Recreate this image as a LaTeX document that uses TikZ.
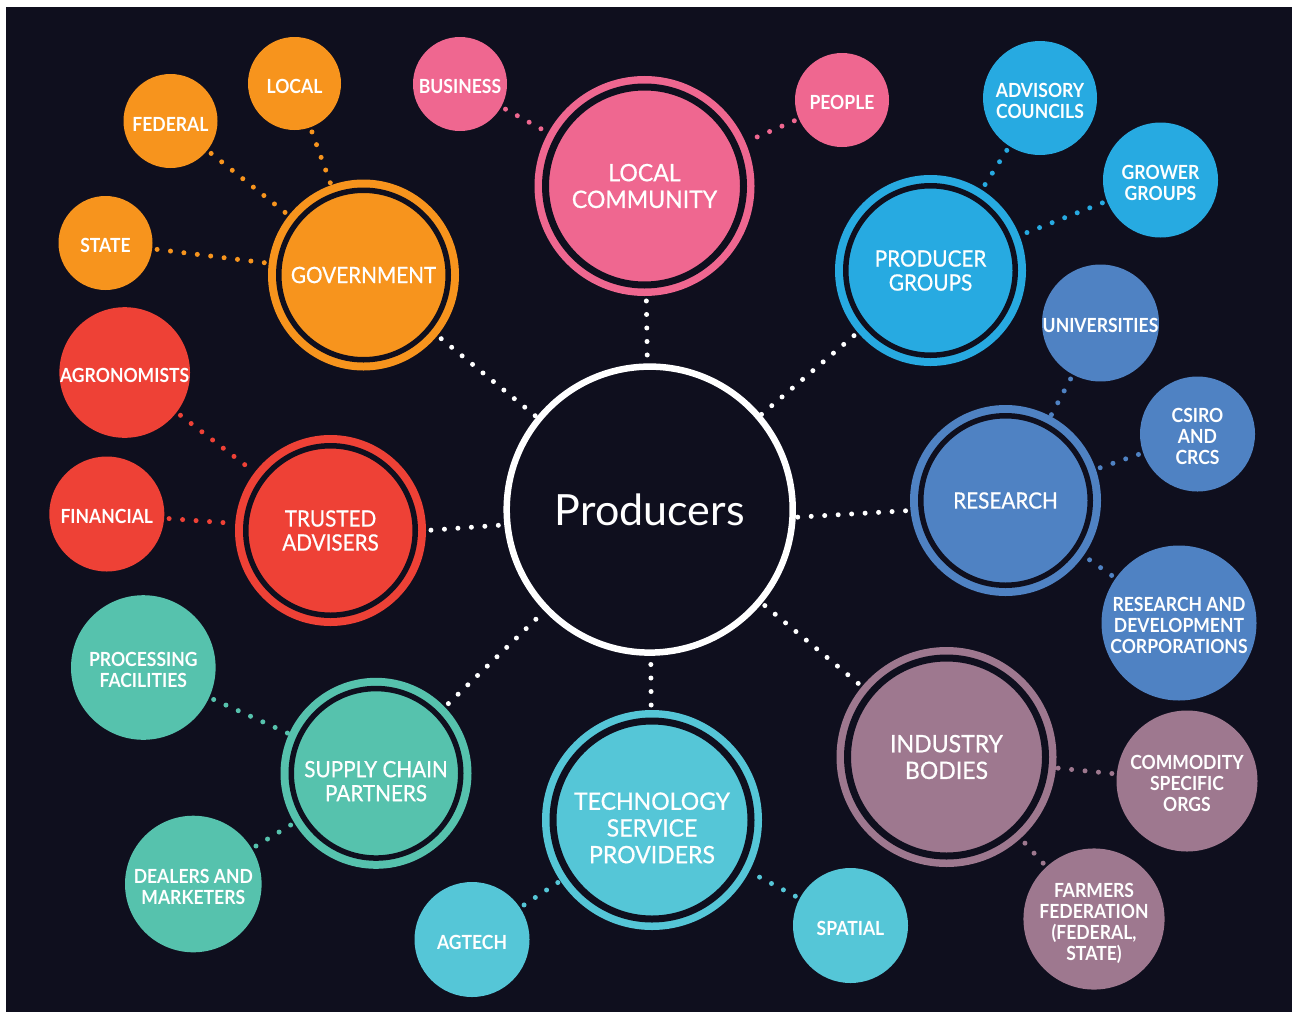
\documentclass[tikz,border=0pt]{standalone}
\usepackage{fontspec}
\setmainfont{Lato}
\newfontfamily\hubfnt[FakeStretch=0.92,FakeBold=0.6]{Lato}
\newfontfamily\bighubfnt[FakeStretch=0.96,FakeBold=0.6]{Lato}
\newfontfamily\smfnt[FakeStretch=0.9]{Lato}
\definecolor{bgc}{HTML}{0F0F1E}
\definecolor{orangec}{HTML}{F7941D}
\definecolor{pinkc}{HTML}{EF6790}
\definecolor{pbluec}{HTML}{27AAE1}
\definecolor{rbluec}{HTML}{4F82C3}
\definecolor{mauvec}{HTML}{9E788F}
\definecolor{tealc}{HTML}{55C6D7}
\definecolor{greenc}{HTML}{56C2AD}
\definecolor{redc}{HTML}{EE4136}
\tikzset{
  hub/.style={circle, inner sep=0pt, fill=#1, draw=#1, double=bgc, line width=8pt,
    double distance=5.5pt, minimum size=169.5pt, outer sep=10.75pt, text=white,
    align=center, font=\hubfnt\fontsize{22.5}{24}\selectfont},
  bighub/.style={hub=#1, line width=7.5pt, double distance=7pt, minimum size=198pt,
    outer sep=11pt, font=\bighubfnt\fontsize{24}{26.7}\selectfont},
  prod/.style={circle, inner sep=0pt, draw=white, fill=bgc, line width=6.5pt,
    minimum size=286pt, outer sep=3.25pt, text=white, font=\fontsize{43}{50}\selectfont},
  leaf/.style={circle, inner sep=0pt, outer sep=0pt, fill=#1, text=white, align=center,
    text height=20pt, font=\smfnt\bfseries\fontsize{19.5}{21}\selectfont},
  two/.style={text height=41pt},
  three/.style={text height=62pt},
  dots/.style={draw=#1, line width=5pt, line cap=round, dash pattern=on 0pt off 13.5pt,
    shorten <=5pt},
}
\begin{document}
\begin{tikzpicture}[x=1pt,y=-1pt]
\useasboundingbox (0,0) rectangle (1292,1012);
\fill[bgc] (6,7) rectangle (1292,1012);
% centre
\node[prod] (p) at (649.7,509.6) {Producers};
% hubs
\node[bighub=pinkc] (lc) at (644.5,186) {LOCAL\\COMMUNITY};
\node[hub=orangec] (gov) at (363.5,275) {GOVERNMENT};
\node[hub=pbluec] (pg) at (930.5,270.5) {PRODUCER\\GROUPS};
\node[hub=rbluec] (res) at (1005.5,500.5) {RESEARCH};
\node[hub=redc] (ta) at (330.5,530.5) {TRUSTED\\ADVISERS};
\node[hub=greenc, text height=56pt] (sc) at (376,773.3) {SUPPLY CHAIN\\PARTNERS};
\node[bighub=tealc, text height=86.6pt] (tech) at (652,820) {TECHNOLOGY\\SERVICE\\PROVIDERS};
\node[bighub=mauvec] (ind) at (946.5,757) {INDUSTRY\\BODIES};
% leaves
\node[leaf=orangec, minimum size=93pt] (local) at (294.5,83.5) {LOCAL};
\node[leaf=orangec, minimum size=94pt] (federal) at (170.5,121) {FEDERAL};
\node[leaf=orangec, minimum size=94pt] (state) at (105.5,243) {STATE};
\node[leaf=pinkc, minimum size=94pt] (business) at (460,84) {BUSINESS};
\node[leaf=pinkc, minimum size=94pt] (people) at (842,100) {PEOPLE};
\node[leaf=pbluec, two, minimum size=114pt] (advisory) at (1040,98) {ADVISORY\\COUNCILS};
\node[leaf=pbluec, two, minimum size=115pt] (grower) at (1160.5,180) {GROWER\\GROUPS};
\node[leaf=rbluec, minimum size=114.4pt] (univ) at (1100.5,323) {UNIVERSITIES};
\node[leaf=rbluec, three, minimum size=115pt] (csiro) at (1197.5,434) {CSIRO\\AND\\CRCS};
\node[leaf=rbluec, three, minimum size=155pt] (rdc) at (1179,623) {RESEARCH AND\\DEVELOPMENT\\CORPORATIONS};
\node[leaf=mauvec, three, minimum size=141pt] (comm) at (1187,781) {COMMODITY\\SPECIFIC\\ORGS};
\node[leaf=mauvec, minimum size=141pt, text height=87pt] (farm) at (1094,919) {FARMERS\\FEDERATION\\(FEDERAL,\\STATE)};
\node[leaf=tealc, minimum size=115pt] (spatial) at (850.5,925.5) {SPATIAL};
\node[leaf=tealc, minimum size=115pt] (agtech) at (472,939.5) {AGTECH};
\node[leaf=greenc, two, minimum size=136.6pt] (dealers) at (193.3,884) {DEALERS AND\\MARKETERS};
\node[leaf=greenc, two, minimum size=144.6pt] (proc) at (143.3,667.5) {PROCESSING\\FACILITIES};
\node[leaf=redc, minimum size=115pt] (fin) at (106.8,514) {FINANCIAL};
\node[leaf=redc, minimum size=130.6pt] (agro) at (124.7,372.5) {AGRONOMISTS};
% connectors
\foreach \h in {lc,gov,pg,sc,tech,ind} \draw[dots=white] (\h) -- (p);
\draw[dots=white] (ta.0) -- (p.186);
\draw[dots=white] (res.186) -- (p.-3);
\foreach \l in {local,federal,state} \draw[dots=orangec] (\l) -- (gov);
\foreach \l in {business,people} \draw[dots=pinkc] (\l) -- (lc);
\foreach \l in {advisory,grower} \draw[dots=pbluec] (\l) -- (pg);
\foreach \l in {univ,csiro,rdc} \draw[dots=rbluec] (\l) -- (res);
\foreach \l in {comm,farm} \draw[dots=mauvec] (\l) -- (ind);
\foreach \l in {spatial,agtech} \draw[dots=tealc] (\l) -- (tech);
\foreach \l in {dealers,proc} \draw[dots=greenc] (\l) -- (sc);
\foreach \l in {fin,agro} \draw[dots=redc] (\l) -- (ta);
\end{tikzpicture}
\end{document}
